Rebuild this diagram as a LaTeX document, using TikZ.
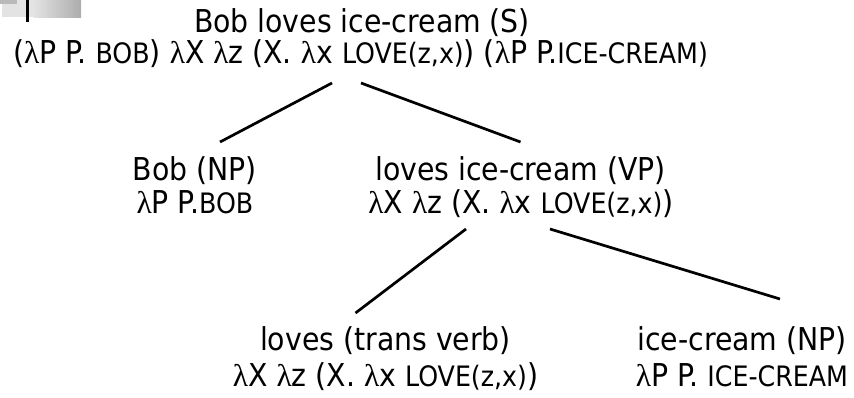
\documentclass[tikz,border=0pt]{standalone}
\usepackage{fontspec}
\setmainfont{DejaVu Sans Condensed}
\newfontfamily\lamfont{Liberation Serif}
\newcommand{\lm}{{\lamfont λ}}
\def\scsize{10}
\def\fs{28}
\newcommand{\smc}[1]{{\fontsize{\scsize}{\scsize}\selectfont #1}}
\newcommand{\lineS}{Bob loves ice-cream (S)}
\newcommand{\lineSs}{(\lm P P. \smc{BOB}) \lm X \lm z (X. \lm x \smc{LOVE(z,x)}) (\lm P P.\smc{ICE-CREAM)}}
\newcommand{\semLove}{\lm X \lm z (X. \lm x \smc{LOVE(z,x)})}
\newsavebox\mybox
\newlength\lenA
\newlength\lenB
\AtBeginDocument{%
  \sbox\mybox{\fontsize{10}{10}\selectfont\lineS}%
  \setlength\lenA{\wd\mybox}%
  \pgfmathsetmacro\fs{3360/\lenA}%
  \def\scsize{10}%
  \sbox\mybox{\fontsize{\fs}{\fs}\selectfont\lineSs}%
  \setlength\lenA{\wd\mybox}%
  \def\scsize{20}%
  \sbox\mybox{\fontsize{\fs}{\fs}\selectfont\lineSs}%
  \setlength\lenB{\wd\mybox}%
  \pgfmathsetmacro\scsize{min(10+10*(695-\lenA)/(\lenB-\lenA),0.9*\fs)}%
}
\begin{document}
\begin{tikzpicture}[x=1pt,y=-1pt,
  lbl/.style={anchor=base,inner sep=0pt,font=\fontsize{\fs}{\fs}\selectfont},
  edge/.style={line width=2.7pt}]
\useasboundingbox (0,0) rectangle (854,397);
% corner decoration
\fill[gray!22] (2,0) rectangle (34,17);
\shade[left color=gray!22,right color=gray!65] (33.5,0) rectangle (81,17);
\fill[gray!55] (0,0) rectangle (17,4);
\fill[black] (26,0) rectangle (29,22);
% nodes
\node[lbl] (S) at (362,32) {\lineS};
\node[lbl] (Ss) at (360.5,63) {\lineSs};
\node[lbl] (NP) at (195,180) {Bob (NP)};
\node[lbl] (NPs) at (195,213) {\lm P P.\smc{BOB}};
\node[lbl] (VP) at (520.5,180) {loves ice-cream (VP)};
\node[lbl] (VPs) at (521,213) {\semLove};
\node[lbl] (V) at (385.5,350) {loves (trans verb)};
\node[lbl] (Vs) at (385.5,386) {\semLove};
\node[lbl] (N) at (742,350) {ice-cream (NP)};
\node[lbl] (Ns) at (742,386) {\lm P P. \smc{ICE-CREAM}};
% connectors
\draw[edge] ([shift={(-28.5,20)}]Ss.base) -- ([shift={(25,-38)}]NP.base);
\draw[edge] ([shift={(0.5,20)}]Ss.base) -- ([shift={(0,-38)}]VP.base);
\draw[edge] ([shift={(-55,16)}]VPs.base) -- ([shift={(-30,-37)}]V.base);
\draw[edge] ([shift={(29,16)}]VPs.base) -- ([shift={(38,-51)}]N.base);
\end{tikzpicture}
\end{document}
